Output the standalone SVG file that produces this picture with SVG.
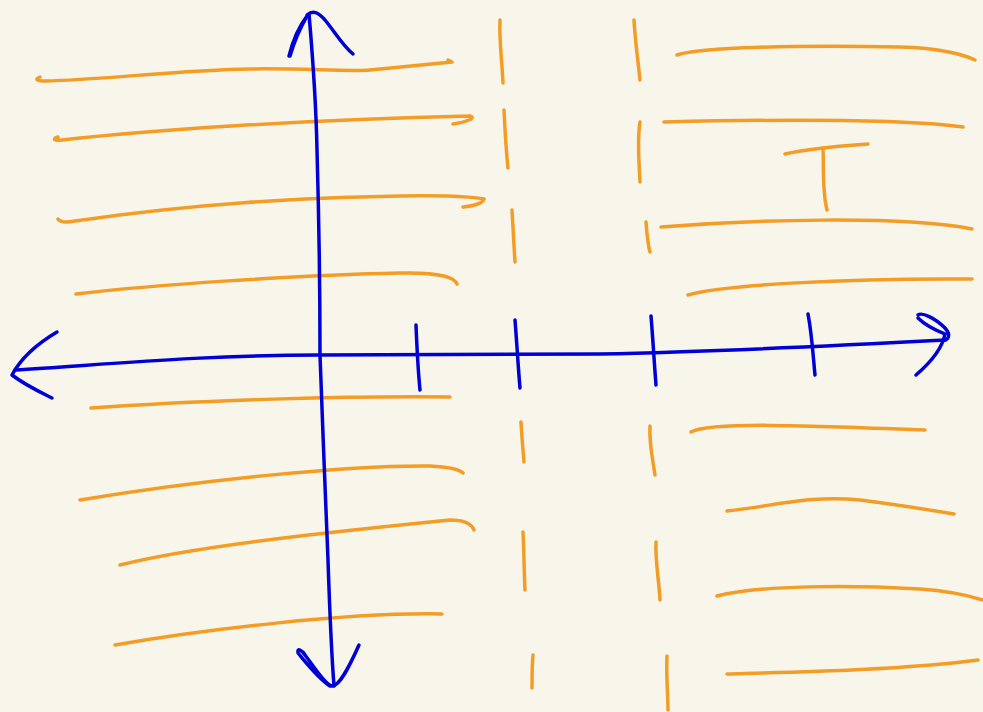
<svg xmlns="http://www.w3.org/2000/svg" width="983" height="712" viewBox="0 0 983 712">
<style>
.o{fill:none;stroke:#f39c26;stroke-width:3.5;stroke-linecap:round;stroke-linejoin:round}
.b{fill:none;stroke:#0000d6;stroke-width:3.5;stroke-linecap:round;stroke-linejoin:round}
</style>
<rect width="983" height="712" fill="#f8f6eb"/>
<g id="left-lines">
<path class="o" d="M40,77 C35,79 36,81 45,81 C100,80 180,70 250,69 C300,68 350,72 370,70 C400,67 430,64 452,62 L448,60"/>
<path class="o" d="M58,137 C52,139 54,141 62,140 C150,130 300,120 470,116 C477,118 466,122 453,124"/>
<path class="o" d="M58,219 C60,222 65,223 75,221 C200,203 300,198 400,196 C470,195 484,199 484,199 C482,205 470,206 463,207"/>
<path class="o" d="M76,294 C150,285 300,275 400,273 C440,272 455,278 457,284"/>
<path class="o" d="M91,408 C200,400 350,396 450,397"/>
<path class="o" d="M80,500 C200,480 350,465 430,466 C450,467 460,470 463,473"/>
<path class="o" d="M120,565 C200,545 350,530 450,520 C465,520 472,525 474,530"/>
<path class="o" d="M115,645 C200,630 350,612 442,614"/>
</g>
<g id="dashes">
<path class="o" d="M500,20 C499,40 502,60 503,83"/>
<path class="o" d="M504,110 C505,130 506,150 508,168"/>
<path class="o" d="M512,210 C513,230 514,245 515,262"/>
<path class="o" d="M521,422 C522,440 523,450 524,462"/>
<path class="o" d="M523,532 C524,550 524,570 525,590"/>
<path class="o" d="M533,655 C532,665 532,678 532,688"/>
<path class="o" d="M634,20 C635,40 638,60 640,80"/>
<path class="o" d="M640,122 C637,140 639,160 640,182"/>
<path class="o" d="M646,222 C647,235 648,245 650,252"/>
<path class="o" d="M650,426 C649,445 653,460 655,475"/>
<path class="o" d="M656,542 C655,560 659,580 660,600"/>
<path class="o" d="M667,656 C666,675 668,695 668,710"/>
</g>
<g id="right-lines">
<path class="o" d="M677,55 C700,47 800,45 900,47 C940,48 965,55 975,60"/>
<path class="o" d="M664,122 C750,120 900,118 963,127"/>
<path class="o" d="M785,154 C810,148 840,146 868,144"/>
<path class="o" d="M823,148 C824,170 822,190 827,210"/>
<path class="o" d="M661,227 C750,220 900,215 972,229"/>
<path class="o" d="M688,295 C720,285 850,278 972,279"/>
<path class="o" d="M691,432 C710,422 800,425 925,430"/>
<path class="o" d="M727,511 C780,505 810,495 860,500 C900,505 930,510 954,514"/>
<path class="o" d="M717,596 C760,585 850,585 920,589 C950,591 970,596 983,600"/>
<path class="o" d="M727,674 C800,672 900,670 978,660"/>
</g>
<g id="axes">
<path class="b" d="M309,14 C313,60 316,100 317,150 C319,220 320,290 320,355 C322,420 326,500 328,560 C330,620 332,660 334,686"/>
<path class="b" d="M289,56 C293,40 300,25 307,16 C300,28 294,42 290,56 M307,15 C313,10 318,12 325,20 C335,32 342,45 353,54"/>
<path class="b" d="M298,652 C297,648 302,650 305,655 C315,668 325,685 332,686 C340,686 350,665 359,645 M298,653 C308,665 318,678 330,686"/>
<path class="b" d="M15,370 C100,365 200,355 320,355 L600,354 C700,352 850,345 945,340"/>
<path class="b" d="M57,332 C35,345 20,360 12,375 C25,385 40,392 52,398"/>
<path class="b" d="M918,315 C922,312 935,318 945,328 C952,336 948,340 942,341 M918,318 C925,325 935,330 945,334 C942,350 930,363 916,375"/>
<path class="b" d="M416,325 C417,350 418,370 420,390"/>
<path class="b" d="M515,320 C517,345 518,365 520,388"/>
<path class="b" d="M651,316 C653,340 654,360 656,385"/>
<path class="b" d="M808,314 C812,335 813,355 815,375"/>
</g>
</svg>
